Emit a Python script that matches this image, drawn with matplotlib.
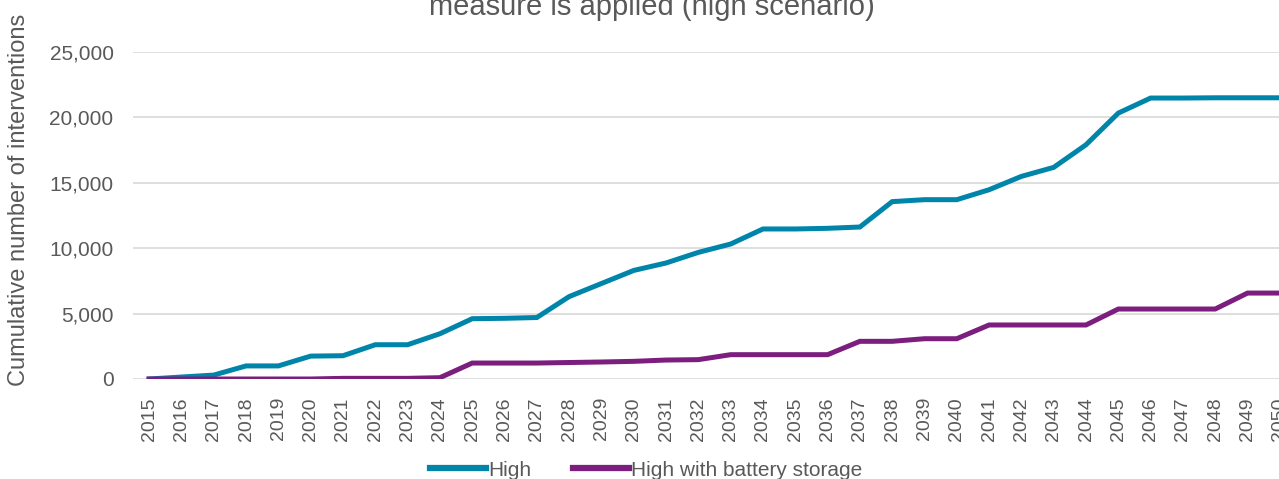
#! /usr/bin/env python3
import matplotlib
matplotlib.use('Agg')
import matplotlib.pyplot as plt
from matplotlib.ticker import FuncFormatter, MultipleLocator

plt.rcParams['font.family'] = ['Liberation Sans', 'DejaVu Sans']

years = list(range(2015, 2051))
high = [0, 150, 300, 1000, 1000, 1750, 1780, 2620, 2620, 3460, 4610, 4640, 4700,
        6300, 7300, 8300, 8870, 9680, 10320, 11470, 11470, 11520, 11620, 13560,
        13710, 13710, 14470, 15490, 16180, 17910, 20330, 21480, 21480, 21500,
        21500, 21500]
high_battery = [0, 0, 0, 0, 0, 0, 50, 50, 50, 100, 1220, 1220, 1220, 1260, 1300,
                1350, 1450, 1480, 1860, 1860, 1860, 1860, 2880, 2880, 3080, 3080,
                4130, 4130, 4130, 4130, 5350, 5350, 5350, 5350, 6570, 6570]
series_names = ['High', 'High with battery storage']
title = 'measure is applied (high scenario)'
ylabel = 'Cumulative number of interventions'

grey = '#595959'
W, H = 1279, 479

fig = plt.figure(figsize=(W / 100, H / 100), dpi=100)
# plot area runs past the right edge like in the cropped original
ax = fig.add_axes([133 / W, 100 / H, (1296 - 133) / W, (379 - 52) / H])

x = list(range(len(years)))
ax.plot(x, high, color='#0085AA', lw=3.6, solid_joinstyle='miter',
        label=series_names[0])
ax.plot(x, high_battery, color='#7B1E7E', lw=3.6, solid_joinstyle='miter',
        label=series_names[1])

ax.set_xlim(-0.5, len(years) - 0.5)
ax.set_ylim(0, 25000)
ax.yaxis.set_major_locator(MultipleLocator(5000))
ax.yaxis.set_major_formatter(FuncFormatter(lambda v, p: f'{int(v):,}'))
ax.set_xticks(x)
ax.set_xticklabels([str(y) for y in years], rotation=90)
ax.tick_params(axis='x', length=0, pad=13, labelsize=14, colors=grey)
ax.tick_params(axis='y', length=0, pad=14, labelsize=15, colors=grey)
ax.grid(axis='y', color='#D9D9D9', lw=1.2)
ax.set_axisbelow(True)
for s in ax.spines.values():
    s.set_visible(False)

fig.text(19 / W, 1 - 200 / H, ylabel, rotation=90, ha='center', va='center',
         fontsize=17, color=grey)
fig.text(652 / W, 1 - 15 / H, title, ha='center', va='baseline',
         fontsize=21, color=grey)

leg = fig.legend(loc='center', bbox_to_anchor=(646 / W, 1 - 470 / H), ncol=2,
                 frameon=False, fontsize=15, labelcolor=grey, handlelength=2.7,
                 handletextpad=0.1, columnspacing=2.0)
for ln in leg.get_lines():
    ln.set_linewidth(4.5)

fig.savefig('out.png', dpi=100)
